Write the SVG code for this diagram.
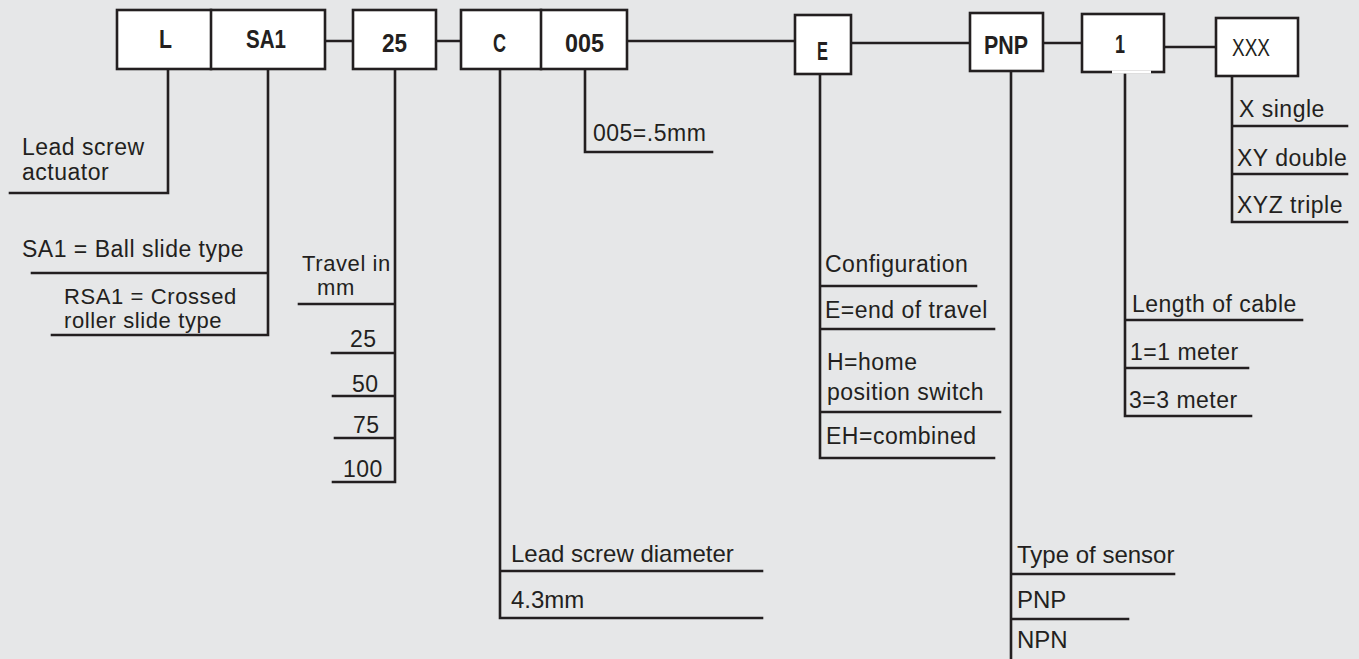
<svg xmlns="http://www.w3.org/2000/svg" width="1359" height="659" viewBox="0 0 1359 659">
<style>
.bg{fill:#e6e7e8}
.box{fill:#ffffff;stroke:#231f20;stroke-width:2.6}
.ln{stroke:#231f20;stroke-width:2.6;fill:none;stroke-linecap:square}
.code{font-family:"Liberation Sans",Arial,sans-serif;font-weight:bold;font-size:26px;fill:#231f20;text-anchor:middle}
.xxx{font-family:"Liberation Sans",Arial,sans-serif;font-size:23px;fill:#231f20}
.t{font-family:"Liberation Sans",Arial,sans-serif;font-size:23px;letter-spacing:0.5px;fill:#231f20}
.ts{font-family:"Liberation Sans",Arial,sans-serif;font-size:22px;letter-spacing:0.6px;fill:#231f20}
.t2{font-family:"Liberation Sans",Arial,sans-serif;font-size:24px;fill:#231f20}
</style>
<rect class="bg" x="0" y="0" width="1359" height="659"/>

<g id="connectors">
  <path class="ln" d="M325 41H353M436 41H461M627 41H795M851 43H970M1043 43H1082M1164 47H1216"/>
  <path class="ln" d="M168 69V193H10"/>
  <path class="ln" d="M268 69V335H52M268 273H32"/>
  <path class="ln" d="M395 69V482H333M395 304H299M395 353H332M395 396H333M395 438H335"/>
  <path class="ln" d="M500 69V618H762M500 571H762"/>
  <path class="ln" d="M585 69V152H712"/>
  <path class="ln" d="M820 74V458H994M820 286H976M820 329H994M820 412H1000"/>
  <path class="ln" d="M1011 71V660M1011 574H1174M1011 619H1128"/>
  <path class="ln" d="M1125 72V416H1251M1125 320H1302M1125 368H1248"/>
  <path class="ln" d="M1232 76V222H1347M1232 126H1347M1232 174H1347"/>
</g>

<g id="node-L-SA1">
  <rect class="box" x="117" y="10" width="208" height="59"/>
  <line class="ln" x1="211" y1="10" x2="211" y2="69"/>
  <text class="code" x="165.5" y="48" textLength="13" lengthAdjust="spacingAndGlyphs">L</text>
  <text class="code" x="266" y="48" textLength="40" lengthAdjust="spacingAndGlyphs">SA1</text>
</g>
<g id="node-25">
  <rect class="box" x="353" y="10" width="83" height="59"/>
  <text class="code" x="394.5" y="52" textLength="25" lengthAdjust="spacingAndGlyphs">25</text>
</g>
<g id="node-C-005">
  <rect class="box" x="461" y="10" width="166" height="59"/>
  <line class="ln" x1="541" y1="10" x2="541" y2="69"/>
  <text class="code" x="499.5" y="52" textLength="13" lengthAdjust="spacingAndGlyphs">C</text>
  <text class="code" x="584.5" y="52" textLength="39" lengthAdjust="spacingAndGlyphs">005</text>
</g>
<g id="node-E">
  <rect class="box" x="795" y="15" width="56" height="59"/>
  <text class="code" x="822.5" y="60" textLength="11" lengthAdjust="spacingAndGlyphs">E</text>
</g>
<g id="node-PNP">
  <rect class="box" x="970" y="13" width="73" height="58"/>
  <text class="code" x="1006" y="54" textLength="44" lengthAdjust="spacingAndGlyphs">PNP</text>
</g>
<g id="node-1">
  <rect class="box" x="1082" y="14" width="82" height="58"/>
  <rect x="1112" y="70.4" width="39" height="3.2" fill="#ffffff"/>
  <text class="code" x="1120" y="53" textLength="10" lengthAdjust="spacingAndGlyphs">1</text>
</g>
<g id="node-XXX">
  <rect class="box" x="1216" y="18" width="82" height="58"/>
  <text class="xxx" x="1232" y="56" textLength="38" lengthAdjust="spacingAndGlyphs">XXX</text>
</g>

<g id="labels">
  <text class="t" x="22" y="155">Lead screw</text>
  <text class="t" x="22" y="180">actuator</text>
  <text class="t" x="22" y="257">SA1 = Ball slide type</text>
  <text class="ts" x="64" y="304">RSA1 = Crossed</text>
  <text class="ts" x="64" y="328">roller slide type</text>
  <text class="ts" x="302" y="271" letter-spacing="0">Travel in</text>
  <text class="ts" x="317" y="295">mm</text>
  <text class="t" x="350" y="347">25</text>
  <text class="t" x="352" y="392">50</text>
  <text class="t" x="353" y="433">75</text>
  <text class="t" x="343" y="477">100</text>
  <text class="t" x="593" y="141">005=.5mm</text>
  <text class="t" x="1239" y="117">X single</text>
  <text class="t" x="1237" y="166">XY double</text>
  <text class="t" x="1237" y="213">XYZ triple</text>
  <text class="t" x="825" y="272">Configuration</text>
  <text class="t" x="825" y="318">E=end of travel</text>
  <text class="t" x="827" y="370">H=home</text>
  <text class="t" x="827" y="400">position switch</text>
  <text class="t" x="826" y="444">EH=combined</text>
  <text class="t" x="1132" y="312">Length of cable</text>
  <text class="t" x="1130" y="360">1=1 meter</text>
  <text class="t" x="1129" y="408">3=3 meter</text>
  <text class="t2" x="511" y="562">Lead screw diameter</text>
  <text class="t2" x="511" y="608">4.3mm</text>
  <text class="t2" x="1017" y="563">Type of sensor</text>
  <text class="t2" x="1017" y="608">PNP</text>
  <text class="t2" x="1017" y="648">NPN</text>
</g>
</svg>
